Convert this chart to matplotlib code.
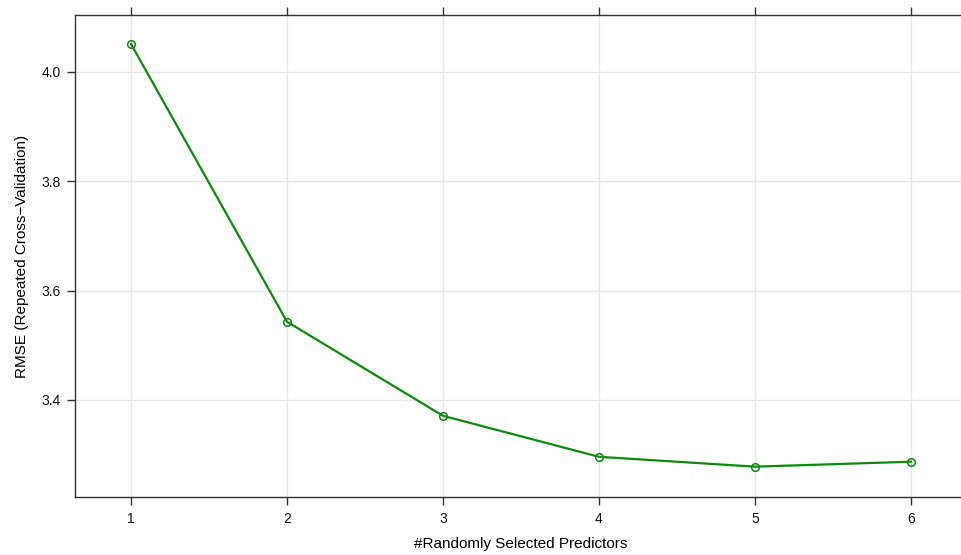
import matplotlib
matplotlib.use("Agg")
import matplotlib.pyplot as plt

plt.rcParams["font.family"] = ["Liberation Sans", "DejaVu Sans"]

# caret tuning profile: mtry vs RMSE
mtry = [1, 2, 3, 4, 5, 6]
rmse = [4.051, 3.543, 3.371, 3.296, 3.278, 3.287]
yticks = [3.4, 3.6, 3.8, 4.0]

fig = plt.figure(figsize=(9.61, 5.55), dpi=100)
W, H = 961, 555
left, right, top, bottom = 75, 967, 15, 497
ax = fig.add_axes([left / W, 1 - bottom / H, (right - left) / W, (bottom - top) / H])

ax.grid(True, color="#e6e6e6", linewidth=1.0)
ax.set_axisbelow(True)
ax.plot(mtry, rmse, color="#0b8a0b", linewidth=1.6,
        marker="o", markersize=5.5, markerfacecolor="none",
        markeredgecolor="#0b8a0b", markeredgewidth=1.1)

ax.set_xlim(0.641, 6.359)
ax.set_ylim(3.2225, 4.104)
ax.set_xticks(mtry)
ax.set_yticks(yticks)
ax.set_yticklabels([f"{v:.1f}" for v in yticks])

for s in ax.spines.values():
    s.set_color("#333333")
    s.set_linewidth(1.0)
ax.tick_params(axis="both", direction="out", length=6, width=1.0,
               color="#333333", labelsize=10, labelcolor="#111111", pad=4)
ax.tick_params(axis="x", top=True, bottom=True)
ax.tick_params(axis="x", pad=5)

ax.set_xlabel("#Randomly Selected Predictors", fontsize=11, labelpad=8)
ax.set_ylabel("RMSE (Repeated Cross\u2212Validation)", fontsize=11, labelpad=9)

fig.savefig("out.png", dpi=100)
